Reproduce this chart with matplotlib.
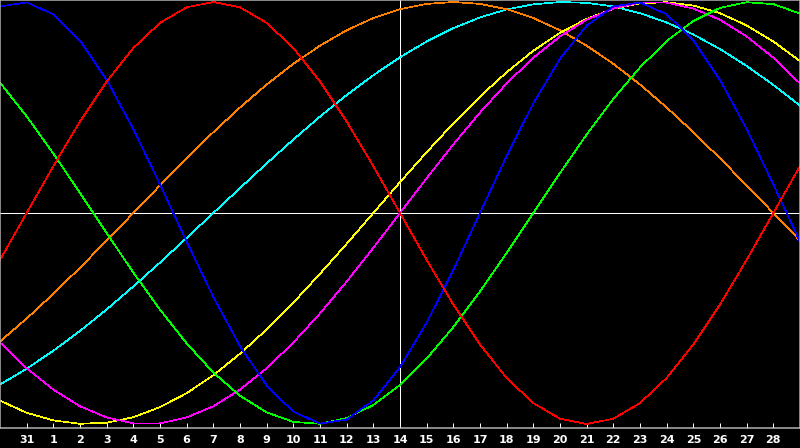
import numpy as np
import matplotlib.pyplot as plt

plt.switch_backend('agg')

# one point per day, from Jan 30 to Mar 1 (Feb 14 is the centre)
DAY_LABELS = ['31', '1', '2', '3', '4', '5', '6', '7', '8', '9', '10', '11', '12', '13', '14',
              '15', '16', '17', '18', '19', '20', '21', '22', '23', '24', '25', '26', '27', '28']

red = [-0.222, 0.0, 0.222, 0.434, 0.623, 0.782, 0.901, 0.975, 1.0, 0.975, 0.901, 0.782, 0.623,
       0.434, 0.222, 0.0, -0.222, -0.434, -0.623, -0.782, -0.901, -0.975, -1.0, -0.975, -0.901,
       -0.782, -0.623, -0.434, -0.222, 0.0, 0.222]
blue = [0.979, 0.998, 0.942, 0.817, 0.631, 0.398, 0.136, -0.136, -0.398, -0.631, -0.817, -0.942,
        -0.998, -0.979, -0.888, -0.731, -0.520, -0.270, 0.0, 0.270, 0.520, 0.731, 0.888, 0.979,
        0.998, 0.942, 0.817, 0.631, 0.398, 0.136, -0.136]
green = [0.618, 0.458, 0.282, 0.095, -0.095, -0.282, -0.458, -0.618, -0.756, -0.866, -0.945,
         -0.990, -0.999, -0.972, -0.910, -0.815, -0.690, -0.541, -0.372, -0.189, 0.0, 0.189,
         0.372, 0.541, 0.690, 0.815, 0.910, 0.972, 0.999, 0.990, 0.945]
orange = [-0.609, -0.5, -0.383, -0.259, -0.131, 0.0, 0.131, 0.259, 0.383, 0.5, 0.609, 0.707,
          0.793, 0.866, 0.924, 0.966, 0.991, 1.0, 0.991, 0.966, 0.924, 0.866, 0.793, 0.707,
          0.609, 0.5, 0.383, 0.259, 0.131, 0.0, -0.131]
cyan = [-0.813, -0.738, -0.653, -0.559, -0.457, -0.348, -0.235, -0.118, 0.0, 0.118, 0.235,
        0.348, 0.457, 0.559, 0.653, 0.738, 0.813, 0.876, 0.927, 0.965, 0.989, 1.0, 0.996,
        0.979, 0.947, 0.903, 0.846, 0.777, 0.697, 0.607, 0.509]
yellow = [-0.889, -0.947, -0.983, -0.999, -0.994, -0.968, -0.920, -0.854, -0.769, -0.667,
          -0.552, -0.425, -0.288, -0.146, 0.0, 0.146, 0.288, 0.425, 0.552, 0.667, 0.769,
          0.854, 0.920, 0.968, 0.994, 0.999, 0.983, 0.947, 0.889, 0.813, 0.720]
magenta = [-0.614, -0.736, -0.837, -0.916, -0.969, -0.997, -0.997, -0.969, -0.916, -0.837,
           -0.736, -0.614, -0.476, -0.325, -0.165, 0.0, 0.165, 0.325, 0.476, 0.614, 0.736,
           0.837, 0.916, 0.969, 0.997, 0.997, 0.969, 0.916, 0.837, 0.736, 0.614]

series = [(cyan, '#00ffff'), (orange, '#ff8000'), (yellow, '#ffff00'), (magenta, '#ff00ff'),
          (green, '#00ff00'), (blue, '#0000ff'), (red, '#ff0000')]

FRAME = '#b4b4b4'
px = 72 / 100  # one pixel in points

fig = plt.figure(figsize=(8, 4.48), dpi=100, facecolor='black')
ax = fig.add_axes([0, 20 / 448, 1, 428 / 448])
ax.set_facecolor('black')

days = np.arange(len(red))

ax.axhline(0, color='white', lw=px, antialiased=False, zorder=1)
ax.axvline(15, color='white', lw=px, antialiased=False, zorder=1)

for values, colour in series:
    ax.plot(days, values, color=colour, lw=0.7 * px, antialiased=False, zorder=2)

ax.set_xlim(0, 30)
ax.set_ylim(-1.019, 1.0095)

ax.set_xticks(np.arange(1, 30))
ax.set_xticklabels(DAY_LABELS, color='white', fontsize=8, fontweight='bold')
ax.tick_params(axis='x', direction='in', length=5 * px, width=px, color='white', pad=5)
ax.set_yticks([])

for side in ['left', 'right', 'top', 'bottom']:
    ax.spines[side].set_color(FRAME)
    ax.spines[side].set_linewidth(1.5 * px)

plt.savefig('out.png', dpi=100, facecolor='black')
plt.close()
